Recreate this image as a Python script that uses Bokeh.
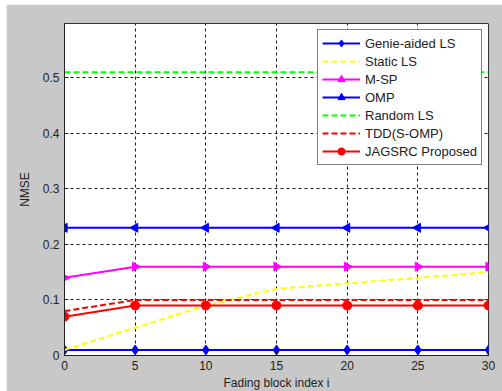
import math
from bokeh.plotting import figure
from bokeh.models import Range1d, FixedTicker, Legend, LegendItem
from bokeh.embed import file_html
from bokeh.resources import INLINE

# ---- data ----
x_idx = [0, 5, 10, 15, 20, 25, 30]
genie_ls = [0.01, 0.01, 0.01, 0.01, 0.01, 0.01, 0.01]
static_ls = [0.01, 0.05, 0.09, 0.12, 0.13, 0.14, 0.15]
m_sp = [0.14, 0.16, 0.16, 0.16, 0.16, 0.16, 0.16]
omp = [0.23, 0.23, 0.23, 0.23, 0.23, 0.23, 0.23]
random_ls = [0.51, 0.51, 0.51, 0.51, 0.51, 0.51, 0.51]
tdd_somp = [0.08, 0.10, 0.10, 0.10, 0.10, 0.10, 0.10]
jagsrc = [0.07, 0.09, 0.09, 0.09, 0.09, 0.09, 0.09]

x_ticks = [0, 5, 10, 15, 20, 25, 30]
y_ticks = [0, 0.1, 0.2, 0.3, 0.4, 0.5]

FONT = "Liberation Sans"
BG = "#c8c8c8"

p = figure(
    width=496, height=381,
    frame_width=424, frame_height=332,
    x_range=Range1d(0, 30), y_range=Range1d(0, 0.598),
    output_backend="svg", toolbar_location=None,
    min_border_left=58, min_border_top=19, min_border_right=14, min_border_bottom=30,
    background_fill_color="white", border_fill_color=BG,
)
p.margin = (4, 0, 6, 6)
p.outline_line_color = "#333333"
p.outline_line_width = 1

for ax in (p.xaxis, p.yaxis):
    ax.major_tick_in = 4
    ax.major_tick_out = 0
    ax.minor_tick_line_color = None
    ax.axis_line_color = "#222222"
    ax.major_tick_line_color = "#222222"
    ax.major_label_text_font = FONT
    ax.major_label_text_font_size = "12px"
    ax.major_label_text_color = "#222222"
    ax.axis_label_text_font = FONT
    ax.axis_label_text_font_size = "12px"
    ax.axis_label_text_font_style = "normal"
    ax.axis_label_text_color = "#222222"

p.xaxis.ticker = FixedTicker(ticks=x_ticks)
p.yaxis.ticker = FixedTicker(ticks=y_ticks)
p.xaxis.major_label_standoff = 5
p.yaxis.major_label_standoff = 5
p.xaxis.axis_label = "Fading block index i"
p.yaxis.axis_label = "NMSE"
p.xaxis.axis_label_standoff = 3
p.yaxis.axis_label_standoff = 8

for g in (p.xgrid, p.ygrid):
    g.grid_line_color = "black"
    g.grid_line_dash = "3 3"
    g.grid_line_width = 1
    g.grid_line_alpha = 0.9

items = []

r1 = p.line(x_idx, genie_ls, line_color="#0000ff", line_width=2)
m1 = p.scatter(x_idx, genie_ls, marker="diamond", size=10, fill_color="#0000ff", line_color="#0000ff")
items.append(LegendItem(label="Genie-aided LS", renderers=[r1, m1]))

r2 = p.line(x_idx, static_ls, line_color="#ffff00", line_width=2, line_dash="6 3")
items.append(LegendItem(label="Static LS", renderers=[r2]))

r3 = p.line(x_idx, m_sp, line_color="#ff00ff", line_width=2)
m3 = p.scatter(x_idx, m_sp, marker="triangle", angle=-math.pi / 2, size=9, fill_color="#ff00ff", line_color="#ff00ff")
items.append(LegendItem(label="M-SP", renderers=[r3, m3]))

r4 = p.line(x_idx, omp, line_color="#0000ff", line_width=2)
m4 = p.scatter(x_idx, omp, marker="triangle", angle=math.pi / 2, size=9, fill_color="#0000ff", line_color="#0000ff")
items.append(LegendItem(label="OMP", renderers=[r4, m4]))

r5 = p.line(x_idx, random_ls, line_color="#00ff00", line_width=2, line_dash="6 3")
items.append(LegendItem(label="Random LS", renderers=[r5]))

r6 = p.line(x_idx, tdd_somp, line_color="#ff0000", line_width=2, line_dash="6 3")
items.append(LegendItem(label="TDD(S-OMP)", renderers=[r6]))

r7 = p.line(x_idx, jagsrc, line_color="#ff0000", line_width=2)
m7 = p.scatter(x_idx, jagsrc, marker="circle", size=9, fill_color="#ff0000", line_color="#ff0000")
items.append(LegendItem(label="JAGSRC Proposed", renderers=[r7, m7]))

legend = Legend(items=items, location="top_right")
legend.margin = 6
legend.padding = 4
legend.spacing = 0
legend.glyph_width = 38
legend.glyph_height = 18
legend.label_height = 18
legend.label_standoff = 5
legend.label_text_font = FONT
legend.label_text_font_size = "13px"
legend.label_text_color = "#222222"
legend.border_line_color = "black"
legend.border_line_width = 1
legend.background_fill_color = "white"
legend.background_fill_alpha = 1
p.add_layout(legend, "center")

open("out.html", "w").write(file_html(p, INLINE))
